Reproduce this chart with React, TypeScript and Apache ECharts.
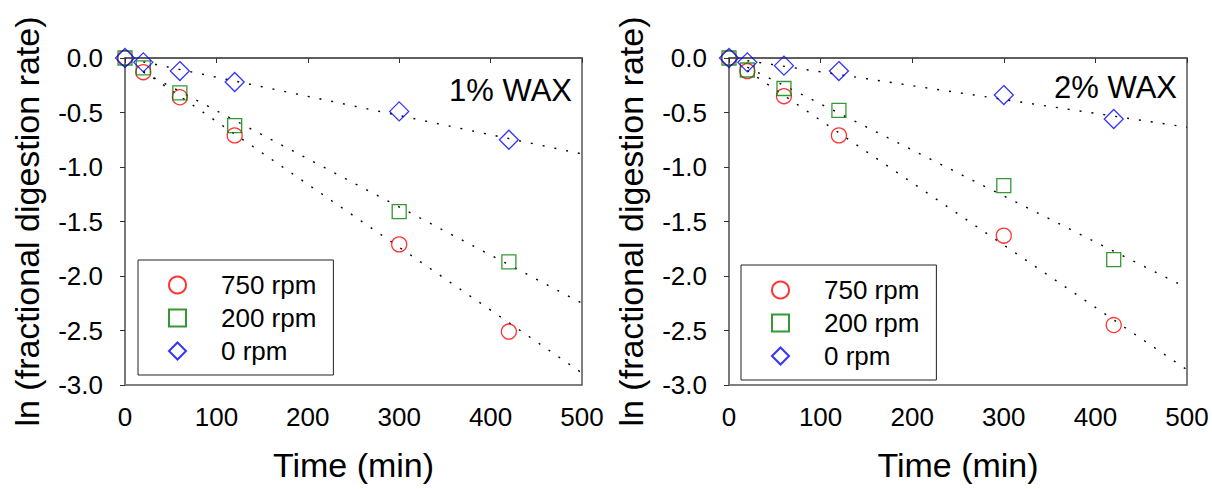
import React, { useEffect, useRef } from "react";
import * as echarts from "echarts";

const times = [0, 20, 60, 120, 300, 420];
const seriesNames = ["750 rpm", "200 rpm", "0 rpm"];
const wax1_750 = [0, -0.13, -0.36, -0.71, -1.71, -2.51];
const wax1_200 = [0, -0.09, -0.32, -0.62, -1.41, -1.87];
const wax1_0 = [0, -0.04, -0.12, -0.22, -0.49, -0.75];
const wax2_750 = [0, -0.12, -0.35, -0.71, -1.63, -2.45];
const wax2_200 = [0, -0.11, -0.28, -0.48, -1.17, -1.85];
const wax2_0 = [0, -0.04, -0.07, -0.12, -0.34, -0.56];

// dotted linear fits: [x, y] endpoints
const fit1_750 = [[20, -0.12], [500, -2.89]];
const fit1_200 = [[20, -0.13], [500, -2.25]];
const fit1_0 = [[20, -0.035], [500, -0.88]];
const fit2_750 = [[20, -0.115], [500, -2.86]];
const fit2_200 = [[20, -0.084], [500, -2.11]];
const fit2_0 = [[20, -0.025], [500, -0.635]];

const panelLabels = ["1% WAX", "2% WAX"];
const xTitle = "Time (min)";
const yTitle = "ln (fractional digestion rate)";

const FONT = "Arial, 'Liberation Sans', sans-serif";
const colors = ["#ff0000", "#008000", "#0000ff"];
const symbols = ["circle", "rect", "diamond"];
const sizes = [15, 14, 19];

export default function App() {
  const ref = useRef<HTMLDivElement>(null);
  useEffect(() => {
    document.body.style.margin = "0";
    const chart = echarts.init(ref.current!, null, { renderer: "svg" });
    const grids = [
      { left: 125, top: 58, width: 457, height: 327 },
      { left: 729, top: 58, width: 458, height: 327 },
    ];
    const xAxes = grids.map((_, i) => ({
      type: "value",
      gridIndex: i,
      min: 0,
      max: 500,
      interval: 100,
      name: xTitle,
      nameLocation: "middle",
      nameGap: 63,
      nameTextStyle: { fontFamily: FONT, fontSize: 34, color: "#000" },
      axisLine: { show: true, lineStyle: { color: "#555", width: 1.5 } },
      axisTick: { show: true, length: 5, lineStyle: { color: "#333" } },
      axisLabel: { fontFamily: FONT, fontSize: 26, color: "#000", margin: 19 },
      splitLine: { show: false },
    }));
    const yAxes = grids.map((_, i) => ({
      type: "value",
      gridIndex: i,
      min: -3,
      max: 0,
      interval: 0.5,
      name: yTitle,
      nameLocation: "middle",
      nameGap: 81,
      nameTextStyle: { fontFamily: FONT, fontSize: 34, color: "#000" },
      axisLine: { show: true, lineStyle: { color: "#777", width: 1.5 } },
      axisTick: { show: true, length: 5, lineStyle: { color: "#333" } },
      axisLabel: {
        fontFamily: FONT,
        fontSize: 26,
        color: "#000",
        margin: 22,
        formatter: (v: number) => v.toFixed(1),
      },
      splitLine: { show: false },
    }));
    const data1 = [wax1_750, wax1_200, wax1_0];
    const data2 = [wax2_750, wax2_200, wax2_0];
    const fits1 = [fit1_750, fit1_200, fit1_0];
    const fits2 = [fit2_750, fit2_200, fit2_0];
    const series: any[] = [];
    [fits1, fits2].forEach((fits, p) => {
      fits.forEach((f, k) => {
        series.push({
          type: "line",
          name: "fit " + seriesNames[k] + " " + p,
          xAxisIndex: p,
          yAxisIndex: p,
          data: f,
          symbol: "none",
          silent: true,
          lineStyle: { color: "#000", width: 1.4, type: [2, 10] },
          z: 1,
        });
      });
    });
    [data1, data2].forEach((d, p) => {
      d.forEach((vals, k) => {
        series.push({
          type: "scatter",
          name: seriesNames[k],
          xAxisIndex: p,
          yAxisIndex: p,
          data: times.map((t, j) => [t, vals[j]]),
          symbol: symbols[k],
          symbolSize: sizes[k],
          clip: false,
          itemStyle: { color: "rgba(0,0,0,0)", borderColor: colors[k], borderWidth: 1.3 },
          z: 3,
        });
      });
    });
    const legendBase = {
      orient: "vertical",
      data: seriesNames,
      selectedMode: false,
      borderColor: "#222",
      borderWidth: 1,
      padding: [12, 17, 11, 30],
      itemGap: 7,
      itemWidth: 17,
      itemHeight: 17,
      textStyle: {
        fontFamily: FONT,
        fontSize: 26,
        lineHeight: 26,
        color: "#000",
        padding: [0, 0, 0, 30],
      },
    };
    chart.setOption({
      animation: false,
      backgroundColor: "#fff",
      grid: grids.map((g) => ({
        ...g,
        show: true,
        borderColor: "#555",
        borderWidth: 1.5,
        backgroundColor: "transparent",
        outerBoundsMode: "none",
        containLabel: false,
      })),
      xAxis: xAxes,
      yAxis: yAxes,
      legend: [
        { ...legendBase, left: 138, top: 260 },
        { ...legendBase, left: 741, top: 265 },
      ],
      graphic: [
        {
          type: "text",
          x: 572,
          y: 90,
          style: {
            text: panelLabels[0],
            fontFamily: FONT,
            fontSize: 31,
            fill: "#000",
            align: "right",
            verticalAlign: "middle",
          },
        },
        {
          type: "text",
          x: 1177,
          y: 87,
          style: {
            text: panelLabels[1],
            fontFamily: FONT,
            fontSize: 31,
            fill: "#000",
            align: "right",
            verticalAlign: "middle",
          },
        },
      ],
      series,
    });
    return () => chart.dispose();
  }, []);
  return <div ref={ref} style={{ width: 1212, height: 489 }} />;
}
